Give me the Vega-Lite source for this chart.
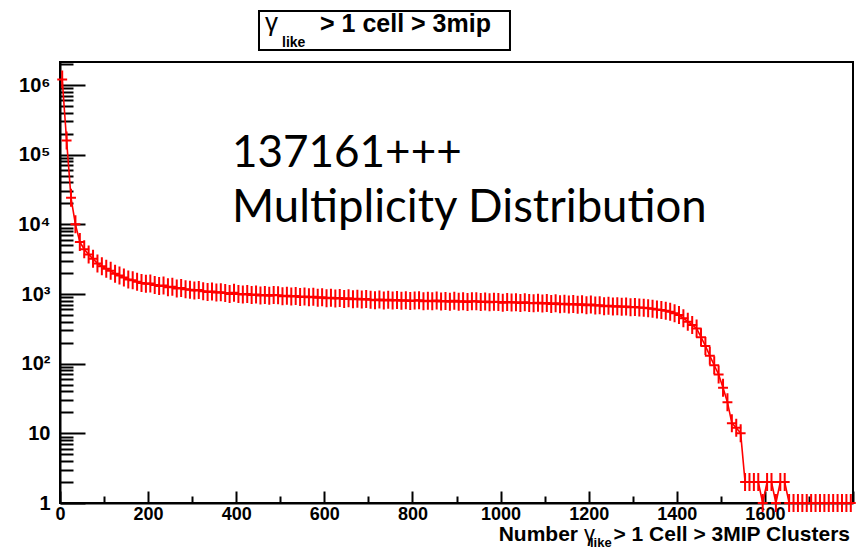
{
  "$schema": "https://vega.github.io/schema/vega-lite/v6.json",
  "autosize": "none",
  "width": 793,
  "height": 441,
  "padding": {"left": 60, "top": 62, "right": 3, "bottom": 47},
  "background": "white",
  "config": {"view": {"stroke": "black", "strokeWidth": 2}, "font": "Liberation Sans"},
  "data": {"values": [
    {"bin":5,"count":1200000},{"bin":15,"count":160000},{"bin":25,"count":24000},{"bin":35,"count":10000},{"bin":45,"count":5600},
    {"bin":55,"count":4400},{"bin":65,"count":3700},{"bin":75,"count":3200},{"bin":85,"count":2750},{"bin":95,"count":2500},
    {"bin":105,"count":2300},{"bin":115,"count":2150},{"bin":125,"count":1950},{"bin":135,"count":1850},{"bin":145,"count":1720},
    {"bin":155,"count":1620},{"bin":165,"count":1580},{"bin":175,"count":1500},{"bin":185,"count":1440},{"bin":195,"count":1400},
    {"bin":205,"count":1420},{"bin":215,"count":1350},{"bin":225,"count":1300},{"bin":235,"count":1320},{"bin":245,"count":1250},
    {"bin":255,"count":1270},{"bin":265,"count":1200},{"bin":275,"count":1220},{"bin":285,"count":1170},{"bin":295,"count":1150},
    {"bin":305,"count":1120},{"bin":315,"count":1140},{"bin":325,"count":1100},{"bin":335,"count":1070},{"bin":345,"count":1090},
    {"bin":355,"count":1050},{"bin":365,"count":1060},{"bin":375,"count":1030},{"bin":385,"count":1000},{"bin":395,"count":1040},
    {"bin":405,"count":1000},{"bin":415,"count":985},{"bin":425,"count":1000},{"bin":435,"count":965},{"bin":445,"count":980},
    {"bin":455,"count":955},{"bin":465,"count":970},{"bin":475,"count":945},{"bin":485,"count":965},{"bin":495,"count":960},
    {"bin":505,"count":930},{"bin":515,"count":945},{"bin":525,"count":920},{"bin":535,"count":935},{"bin":545,"count":905},
    {"bin":555,"count":920},{"bin":565,"count":895},{"bin":575,"count":910},{"bin":585,"count":885},{"bin":595,"count":900},
    {"bin":605,"count":870},{"bin":615,"count":885},{"bin":625,"count":860},{"bin":635,"count":875},{"bin":645,"count":850},
    {"bin":655,"count":870},{"bin":665,"count":840},{"bin":675,"count":855},{"bin":685,"count":835},{"bin":695,"count":845},
    {"bin":705,"count":830},{"bin":715,"count":815},{"bin":725,"count":835},{"bin":735,"count":810},{"bin":745,"count":830},
    {"bin":755,"count":805},{"bin":765,"count":820},{"bin":775,"count":800},{"bin":785,"count":815},{"bin":795,"count":795},
    {"bin":805,"count":805},{"bin":815,"count":815},{"bin":825,"count":790},{"bin":835,"count":800},{"bin":845,"count":785},
    {"bin":855,"count":805},{"bin":865,"count":780},{"bin":875,"count":795},{"bin":885,"count":775},{"bin":895,"count":800},
    {"bin":905,"count":775},{"bin":915,"count":790},{"bin":925,"count":770},{"bin":935,"count":785},{"bin":945,"count":790},
    {"bin":955,"count":765},{"bin":965,"count":780},{"bin":975,"count":760},{"bin":985,"count":775},{"bin":995,"count":765},
    {"bin":1005,"count":750},{"bin":1015,"count":770},{"bin":1025,"count":755},{"bin":1035,"count":760},{"bin":1045,"count":740},
    {"bin":1055,"count":760},{"bin":1065,"count":745},{"bin":1075,"count":735},{"bin":1085,"count":750},{"bin":1095,"count":730},
    {"bin":1105,"count":740},{"bin":1115,"count":720},{"bin":1125,"count":735},{"bin":1135,"count":715},{"bin":1145,"count":725},
    {"bin":1155,"count":705},{"bin":1165,"count":720},{"bin":1175,"count":700},{"bin":1185,"count":710},{"bin":1195,"count":690},
    {"bin":1205,"count":705},{"bin":1215,"count":685},{"bin":1225,"count":690},{"bin":1235,"count":665},{"bin":1245,"count":680},
    {"bin":1255,"count":660},{"bin":1265,"count":670},{"bin":1275,"count":655},{"bin":1285,"count":660},{"bin":1295,"count":645},
    {"bin":1305,"count":650},{"bin":1315,"count":640},{"bin":1325,"count":635},{"bin":1335,"count":625},{"bin":1345,"count":615},
    {"bin":1355,"count":600},{"bin":1365,"count":590},{"bin":1375,"count":575},{"bin":1385,"count":555},{"bin":1395,"count":530},
    {"bin":1405,"count":500},{"bin":1415,"count":450},{"bin":1425,"count":400},{"bin":1435,"count":360},{"bin":1445,"count":320},
    {"bin":1455,"count":240},{"bin":1465,"count":180},{"bin":1475,"count":130},{"bin":1485,"count":95},{"bin":1495,"count":70},
    {"bin":1505,"count":45},{"bin":1515,"count":28},{"bin":1525,"count":14},{"bin":1535,"count":12},{"bin":1545,"count":10},
    {"bin":1555,"count":2},{"bin":1565,"count":2},{"bin":1575,"count":2},{"bin":1585,"count":2},{"bin":1595,"count":1},
    {"bin":1605,"count":2},{"bin":1615,"count":2},{"bin":1625,"count":1},{"bin":1635,"count":2},{"bin":1645,"count":2},
    {"bin":1655,"count":1},{"bin":1665,"count":1},{"bin":1675,"count":1},{"bin":1685,"count":1},{"bin":1695,"count":1},
    {"bin":1705,"count":1},{"bin":1715,"count":1},{"bin":1725,"count":1},{"bin":1735,"count":1},{"bin":1745,"count":1},
    {"bin":1755,"count":1},{"bin":1765,"count":1},{"bin":1775,"count":1},{"bin":1785,"count":1},{"bin":1795,"count":1}
  ]},
  "layer": [
    {
      "mark": {"type": "line", "color": "#ff0000", "strokeWidth": 1.6},
      "encoding": {
        "x": {
          "field": "bin", "type": "quantitative",
          "scale": {"domain": [0, 1800], "nice": false, "zero": false},
          "axis": {
            "title": null, "grid": false,
            "values": [0,50,100,150,200,250,300,350,400,450,500,550,600,650,700,750,800,850,900,950,1000,1050,1100,1150,1200,1250,1300,1350,1400,1450,1500,1550,1600,1650,1700,1750,1800],
            "labelExpr": "datum.value % 200 == 0 && datum.value < 1800 ? datum.label : ''",
            "format": "d",
            "domainColor": "black", "domainWidth": 2,
            "tickColor": "black", "tickWidth": 2,
            "tickSize": {"condition": {"test": "datum.value % 200 == 0", "value": -12}, "value": -7},
            "labelPadding": 14,
            "labelFont": "Liberation Sans", "labelFontWeight": "bold", "labelFontSize": 18, "labelColor": "black",
            "labelFlush": false, "labelOverlap": false, "labelBound": false
          }
        },
        "y": {
          "field": "count", "type": "quantitative",
          "scale": {"type": "log", "domain": [1, 2140000], "nice": false},
          "axis": {
            "title": null, "grid": false,
            "values": [1,2,3,4,5,6,7,8,9,10,20,30,40,50,60,70,80,90,100,200,300,400,500,600,700,800,900,1000,2000,3000,4000,5000,6000,7000,8000,9000,10000,20000,30000,40000,50000,60000,70000,80000,90000,100000,200000,300000,400000,500000,600000,700000,800000,900000,1000000,2000000],
            "labelExpr": "datum.value == 1 ? '1' : datum.value == 10 ? '10' : datum.value == 100 ? '10²' : datum.value == 1000 ? '10³' : datum.value == 10000 ? '10⁴' : datum.value == 100000 ? '10⁵' : datum.value == 1000000 ? '10⁶' : ''",
            "domainColor": "black", "domainWidth": 2,
            "tickColor": "black", "tickWidth": 2,
            "tickSize": {"condition": {"test": "indexof([1,10,100,1000,10000,100000,1000000], datum.value) >= 0", "value": -25}, "value": -13},
            "labelPadding": 35,
            "labelFont": "Liberation Sans", "labelFontWeight": "bold", "labelFontSize": 20, "labelColor": "black",
            "labelFlush": false, "labelOverlap": false, "labelBound": false
          }
        }
      }
    },
    {
      "mark": {"type": "point", "shape": "M-0.55,0H0.55M0,-1V1", "size": 324, "filled": false, "color": "#ff0000", "strokeWidth": 2, "opacity": 1},
      "encoding": {"x": {"field": "bin", "type": "quantitative"}, "y": {"field": "count", "type": "quantitative"}}
    },
    {
      "data": {"values": [{"a": 1}]},
      "mark": {"type": "rect", "fill": "white", "stroke": "black", "strokeWidth": 2},
      "encoding": {"x": {"datum": 451.7, "type": "quantitative"}, "x2": {"datum": 1021.4}, "y": {"datum": 11530000, "type": "quantitative"}, "y2": {"datum": 3180000}}
    },
    {
      "data": {"values": [{"a": 1}]},
      "mark": {"type": "text", "text": "γ", "font": "Liberation Sans", "fontSize": 26, "align": "left", "baseline": "alphabetic", "color": "black"},
      "encoding": {"x": {"datum": 465.3, "type": "quantitative"}, "y": {"datum": 5960000, "type": "quantitative"}}
    },
    {
      "data": {"values": [{"a": 1}]},
      "mark": {"type": "text", "text": "like", "font": "Liberation Sans", "fontWeight": "bold", "fontSize": 14, "align": "left", "baseline": "alphabetic", "color": "black"},
      "encoding": {"x": {"datum": 503.9, "type": "quantitative"}, "y": {"datum": 3510000, "type": "quantitative"}}
    },
    {
      "data": {"values": [{"a": 1}]},
      "mark": {"type": "text", "text": "> 1 cell > 3mip", "font": "Liberation Sans", "fontWeight": "bold", "fontSize": 25, "align": "left", "baseline": "alphabetic", "color": "black"},
      "encoding": {"x": {"datum": 590.2, "type": "quantitative"}, "y": {"datum": 5760000, "type": "quantitative"}}
    },
    {
      "data": {"values": [{"a": 1}]},
      "mark": {"type": "text", "text": "137161+++", "font": "Lato", "fontSize": 44, "align": "left", "baseline": "alphabetic", "color": "black"},
      "encoding": {"x": {"datum": 390.4, "type": "quantitative"}, "y": {"datum": 66500, "type": "quantitative"}}
    },
    {
      "data": {"values": [{"a": 1}]},
      "mark": {"type": "text", "text": "Multiplicity Distribution", "font": "Lato", "fontSize": 45.5, "align": "left", "baseline": "alphabetic", "color": "black"},
      "encoding": {"x": {"datum": 390.4, "type": "quantitative"}, "y": {"datum": 10790, "type": "quantitative"}}
    },
    {
      "data": {"values": [{"a": 1}]},
      "mark": {"type": "text", "text": "Number", "font": "Liberation Sans", "fontWeight": "bold", "fontSize": 21, "align": "right", "baseline": "alphabetic", "color": "black"},
      "encoding": {"x": {"datum": 1175.8, "type": "quantitative"}, "y": {"datum": 0.285, "type": "quantitative"}}
    },
    {
      "data": {"values": [{"a": 1}]},
      "mark": {"type": "text", "text": "γ", "font": "Liberation Sans", "fontSize": 22, "align": "left", "baseline": "alphabetic", "color": "black"},
      "encoding": {"x": {"datum": 1189.4, "type": "quantitative"}, "y": {"datum": 0.285, "type": "quantitative"}}
    },
    {
      "data": {"values": [{"a": 1}]},
      "mark": {"type": "text", "text": "like", "font": "Liberation Sans", "fontWeight": "bold", "fontSize": 13, "align": "left", "baseline": "alphabetic", "color": "black"},
      "encoding": {"x": {"datum": 1203, "type": "quantitative"}, "y": {"datum": 0.235, "type": "quantitative"}}
    },
    {
      "data": {"values": [{"a": 1}]},
      "mark": {"type": "text", "text": "> 1 Cell > 3MIP Clusters", "font": "Liberation Sans", "fontWeight": "bold", "fontSize": 21, "align": "right", "baseline": "alphabetic", "color": "black"},
      "encoding": {"x": {"datum": 1793.2, "type": "quantitative"}, "y": {"datum": 0.285, "type": "quantitative"}}
    }
  ]
}
